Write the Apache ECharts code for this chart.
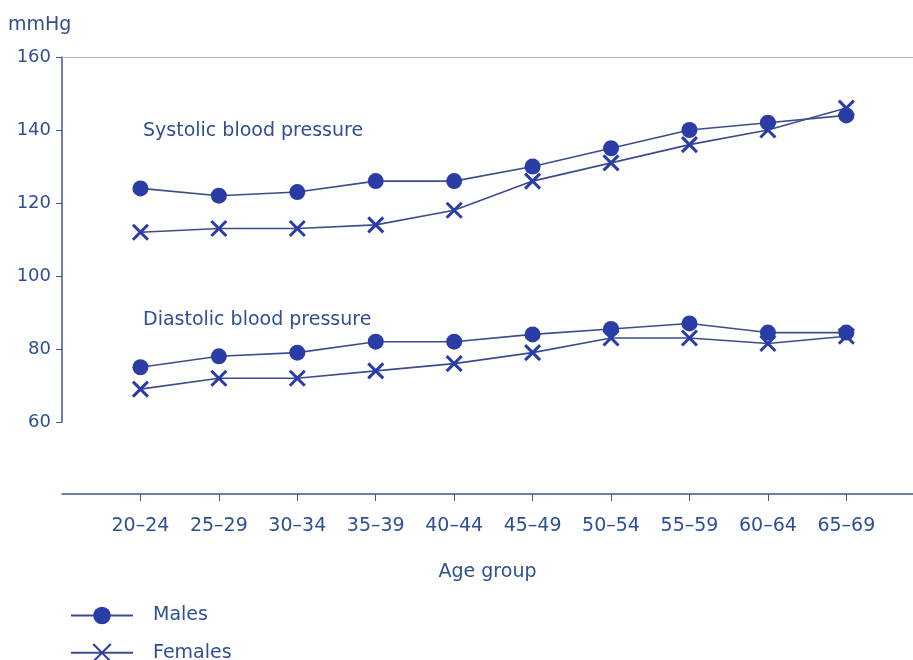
<!DOCTYPE html>
<html><head><meta charset="utf-8">
<script src="https://cdn.jsdelivr.net/npm/echarts@6/dist/echarts.min.js"></script>
<style>html,body{margin:0;padding:0;background:#fff}#c{width:913px;height:660px}</style>
</head><body><div id="c"></div>
<script>
const categories = ['20–24','25–29','30–34','35–39','40–44','45–49','50–54','55–59','60–64','65–69'];
const systolicMales   = [124,122,123,126,126,130,135,140,142,144];
const systolicFemales = [112,113,113,114,118,126,131,136,140,146];
const diastolicMales   = [75,78,79,82,82,84,85.5,87,84.5,84.5];
const diastolicFemales = [69,72,72,74,76,79,83,83,81.5,83.5];
const yTicks = [60,80,100,120,140,160];

const FONT = 'DejaVu Sans';
const TXT = '#2f4f93';
const AX = '#3f5592';
const MARK = '#2a3ca6';
const LINE = '#3c4c8e';
const idx = categories.map((c,i)=>i);
const pts = arr => arr.map((v,i)=>[i,v]);
const cross = 'path://M0,0L10,10M10,0L0,10';

function series(name, arr, female){
  return {
    name, type:'line', data: pts(arr),
    symbol: female ? cross : 'circle',
    symbolSize: female ? 15 : 16,
    lineStyle:{color:LINE, width:1.6},
    itemStyle: female ? {color:MARK, borderColor:MARK, borderWidth:3} : {color:MARK},
    z: female ? 3 : 4,
    animation:false
  };
}
const legendBase = {
  orient:'horizontal', left:65, itemWidth:62, itemHeight:22,
  textStyle:{fontFamily:FONT, fontSize:19, color:TXT, padding:[0,0,0,15]}
};

const chart = echarts.init(document.getElementById('c'));
chart.setOption({
  animation:false,
  grid:{left:62, right:0, top:57, bottom:238},
  xAxis:[{
    type:'value', min:-1, max:9.85, offset:72,
    axisLine:{show:true, lineStyle:{color:AX, width:1.5}},
    axisTick:{show:true, length:7, customValues: idx, lineStyle:{color:AX}},
    axisLabel:{customValues: idx, margin:23, fontFamily:FONT, fontSize:19, color:TXT,
      formatter: v => categories[Math.round(v)]},
    splitLine:{show:false},
    name:'Age group', nameLocation:'middle', nameGap:69,
    nameTextStyle:{fontFamily:FONT, fontSize:19, color:TXT}
  },{
    type:'value', position:'top', min:-1, max:9.85,
    axisLine:{show:true, lineStyle:{color:'#a9b6d4', width:1.2}},
    axisTick:{show:false}, axisLabel:{show:false}, splitLine:{show:false}
  }],
  yAxis:{
    type:'value', min:60, max:160, interval:20,
    axisLine:{show:true, onZero:false, lineStyle:{color:AX, width:1.5}},
    axisTick:{show:true, length:6, lineStyle:{color:AX}},
    axisLabel:{margin:11, fontFamily:FONT, fontSize:18, color:TXT},
    splitLine:{show:false}
  },
  legend:[
    Object.assign({}, legendBase, {top:601, data:['Males']}),
    Object.assign({}, legendBase, {top:638, data:['Females']})
  ],
  graphic:[
    {type:'text', left:8, top:16, style:{text:'mmHg', font:'19px "DejaVu Sans"', fill:TXT}},
    {type:'text', left:143, top:122, style:{text:'Systolic blood pressure', font:'19px "DejaVu Sans"', fill:TXT}},
    {type:'text', left:143, top:311, style:{text:'Diastolic blood pressure', font:'19px "DejaVu Sans"', fill:TXT}}
  ],
  series:[
    series('Males', systolicMales, false),
    series('Females', systolicFemales, true),
    series('Males', diastolicMales, false),
    series('Females', diastolicFemales, true)
  ]
});
</script></body></html>
